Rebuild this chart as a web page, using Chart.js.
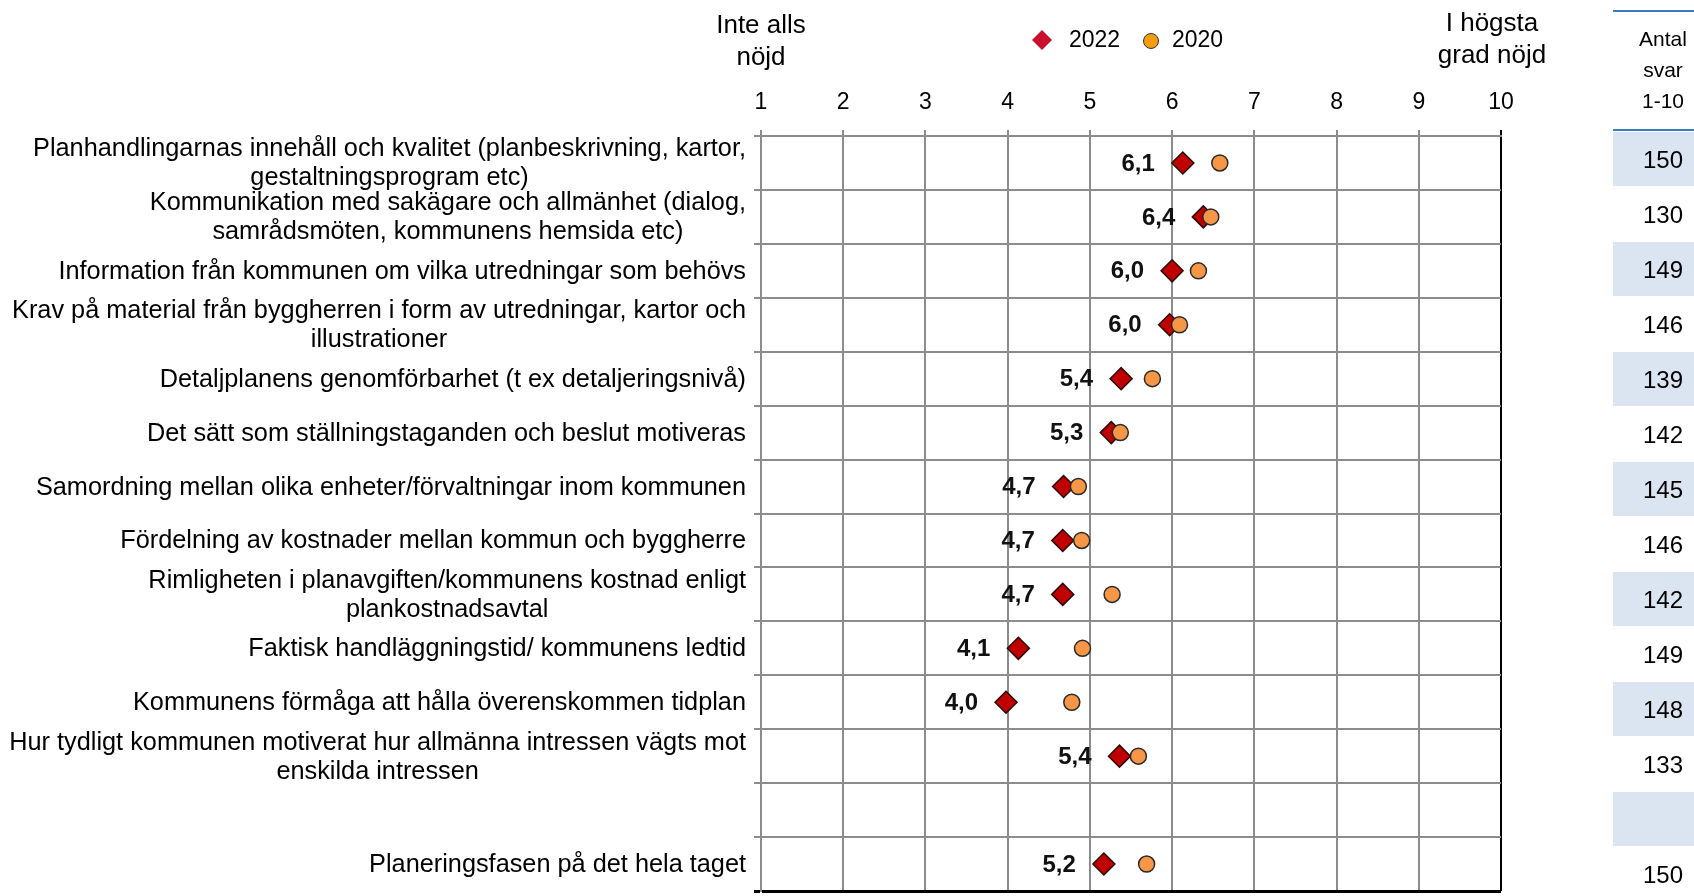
<!DOCTYPE html>
<html lang="sv">
<head>
<meta charset="UTF-8">
<title>Planeringsfasen</title>
<script src="https://cdn.jsdelivr.net/npm/chart.js@4.4.1/dist/chart.umd.min.js"></script>
<style>
  html, body { margin: 0; padding: 0; background: #fff; overflow: hidden; }
  #wrap { position: relative; width: 1694px; height: 896px; }
</style>
</head>
<body>
<div id="wrap"><canvas id="myChart"></canvas></div>
<script>
// frågorna, en tom rad före sammanfattningen
const categories = [
  ["Planhandlingarnas innehåll och kvalitet (planbeskrivning, kartor,", "gestaltningsprogram etc)"],
  ["Kommunikation med sakägare och allmänhet (dialog,", "samrådsmöten, kommunens hemsida etc)"],
  ["Information från kommunen om vilka utredningar som behövs"],
  ["Krav på material från byggherren i form av utredningar, kartor och", "illustrationer"],
  ["Detaljplanens genomförbarhet (t ex detaljeringsnivå)"],
  ["Det sätt som ställningstaganden och beslut motiveras"],
  ["Samordning mellan olika enheter/förvaltningar inom kommunen"],
  ["Fördelning av kostnader mellan kommun och byggherre"],
  ["Rimligheten i planavgiften/kommunens kostnad enligt", "plankostnadsavtal"],
  ["Faktisk handläggningstid/ kommunens ledtid"],
  ["Kommunens förmåga att hålla överenskommen tidplan"],
  ["Hur tydligt kommunen motiverat hur allmänna intressen vägts mot", "enskilda intressen"],
  [""],
  ["Planeringsfasen på det hela taget"]
];
const values2022 = [6.13, 6.38, 6.0, 5.97, 5.38, 5.26, 4.68, 4.67, 4.67, 4.13, 3.98, 5.36, null, 5.17];
const values2020 = [6.58, 6.47, 6.32, 6.09, 5.76, 5.37, 4.86, 4.90, 5.27, 4.91, 4.78, 5.59, null, 5.69];
const antalSvar = ["150", "130", "149", "146", "139", "142", "145", "146", "142", "149", "148", "133", "", "150"];
const seriesNames = ["2022", "2020"];
const scaleMin = 1, scaleMax = 10;
const leftTitle = ["Inte alls", "nöjd"];
const rightTitle = ["I högsta", "grad nöjd"];
const tableHeader = ["Antal", "svar", "1-10"];

const FONT = "'Liberation Sans', Arial, sans-serif";
const rowKeys = categories.map((c, i) => i + ":" + c.join(" "));

function points(vals) {
  const out = [];
  vals.forEach((v, i) => { if (v != null) out.push({ x: v, y: rowKeys[i] }); });
  return out;
}

const C2022 = "#c00000", C2020 = "#f79646";

const extras = {
  id: "extras",
  afterDatasetsDraw(chart) {
    const ctx = chart.ctx;
    // värdeetiketter för 2022
    ctx.save();
    ctx.font = "bold 24px " + FONT;
    ctx.fillStyle = "#111";
    ctx.textAlign = "right";
    ctx.textBaseline = "middle";
    const meta = chart.getDatasetMeta(0);
    const d = chart.data.datasets[0].data;
    meta.data.forEach((el, j) => {
      ctx.fillText(d[j].x.toFixed(1).replace(".", ","), el.x - 28, el.y + 1);
    });
    ctx.restore();
  },
  afterDraw(chart) {
    const ctx = chart.ctx;
    const ys = chart.scales.y, xs = chart.scales.x;
    ctx.save();
    ctx.fillStyle = "#000";
    ctx.textBaseline = "middle";

    // kategorietiketter: högerställda block, raderna centrerade
    ctx.font = "25.3px " + FONT;
    ctx.textAlign = "center";
    const right = ys.right - 15;
    categories.forEach((lines, i) => {
      const yc = ys.getPixelForValue(i) + 1;
      const w = Math.max(...lines.map(l => ctx.measureText(l).width));
      const cx = right - w / 2;
      lines.forEach((l, k) => {
        ctx.fillText(l, cx, yc + (k - (lines.length - 1) / 2) * 29);
      });
    });

    // skalans ändpunkter
    ctx.font = "26px " + FONT;
    const xl = xs.getPixelForValue(scaleMin);
    leftTitle.forEach((t, k) => ctx.fillText(t, xl, 26 + k * 32));
    const xr = xs.getPixelForValue(scaleMax) - 9;
    rightTitle.forEach((t, k) => ctx.fillText(t, xr, 24 + k * 32));

    // förklaring
    ctx.fillStyle = "#c8102e";
    ctx.beginPath();
    ctx.moveTo(1042, 30); ctx.lineTo(1052, 40); ctx.lineTo(1042, 50); ctx.lineTo(1032, 40);
    ctx.closePath(); ctx.fill();
    ctx.fillStyle = "#f39c10";
    ctx.strokeStyle = "#333";
    ctx.lineWidth = 1;
    ctx.beginPath(); ctx.arc(1151, 41, 7.5, 0, Math.PI * 2); ctx.fill(); ctx.stroke();
    ctx.fillStyle = "#000";
    ctx.font = "23px " + FONT;
    ctx.textAlign = "left";
    ctx.fillText(seriesNames[0], 1069, 41);
    ctx.fillText(seriesNames[1], 1172, 41);

    // tabell: antal svar
    const tx0 = 1613, tx1 = 1694, tcx = 1663;
    const rowH = 55, rowTop = 132;
    antalSvar.forEach((s, i) => {
      if (i % 2 === 0) {
        ctx.fillStyle = "#dbe5f1";
        ctx.fillRect(tx0, rowTop + i * rowH, tx1 - tx0, rowH - 1);
      }
    });
    ctx.strokeStyle = "#3b7dc4";
    ctx.lineWidth = 2;
    ctx.beginPath();
    ctx.moveTo(tx0, 11); ctx.lineTo(tx1, 11);
    ctx.moveTo(tx0, 130); ctx.lineTo(tx1, 130);
    ctx.stroke();
    ctx.fillStyle = "#000";
    ctx.textAlign = "center";
    ctx.font = "21px " + FONT;
    tableHeader.forEach((t, k) => ctx.fillText(t, tcx, 40 + k * 31));
    ctx.font = "24px " + FONT;
    antalSvar.forEach((s, i) => ctx.fillText(s, tcx, rowTop + i * rowH + rowH / 2 + 2));
    ctx.restore();
  }
};

new Chart(document.getElementById("myChart"), {
  type: "scatter",
  data: {
    datasets: [
      {
        label: seriesNames[0],
        data: points(values2022),
        pointStyle: "rectRot",
        pointRadius: 11,
        pointHoverRadius: 11,
        backgroundColor: C2022,
        borderColor: "#2a0a0a",
        borderWidth: 1.5,
        order: 2
      },
      {
        label: seriesNames[1],
        data: points(values2020),
        pointStyle: "circle",
        pointRadius: 8,
        pointHoverRadius: 8,
        backgroundColor: C2020,
        borderColor: "#2a2a2a",
        borderWidth: 1.5,
        order: 1
      }
    ]
  },
  options: {
    responsive: true,
    maintainAspectRatio: false,
    animation: false,
    devicePixelRatio: 1,
    layout: { autoPadding: false, padding: { top: 84, right: 193, bottom: 5, left: 0 } },
    plugins: { legend: { display: false }, tooltip: { enabled: false } },
    scales: {
      x: {
        type: "linear",
        position: "top",
        min: scaleMin,
        max: scaleMax,
        ticks: { stepSize: 1, color: "#000", font: { family: FONT, size: 23 }, padding: 14 },
        grid: {
          color: c => (c.tick && c.tick.value === scaleMax ? "#000" : "#8c8c8c"),
          lineWidth: 2,
          tickLength: 6
        },
        border: { color: "#8c8c8c", width: 2 },
        afterFit: s => { s.height = 52; }
      },
      y: {
        type: "category",
        labels: rowKeys,
        offset: true,
        ticks: { display: false },
        grid: {
          offset: true,
          color: c => (c.tick ? "#8c8c8c" : "#000"),
          lineWidth: c => (c.tick ? 2 : 3),
          tickLength: 7
        },
        border: { color: "#8c8c8c", width: 2 },
        afterFit: s => { s.width = 761; }
      }
    }
  },
  plugins: [extras]
});
</script>
</body>
</html>
